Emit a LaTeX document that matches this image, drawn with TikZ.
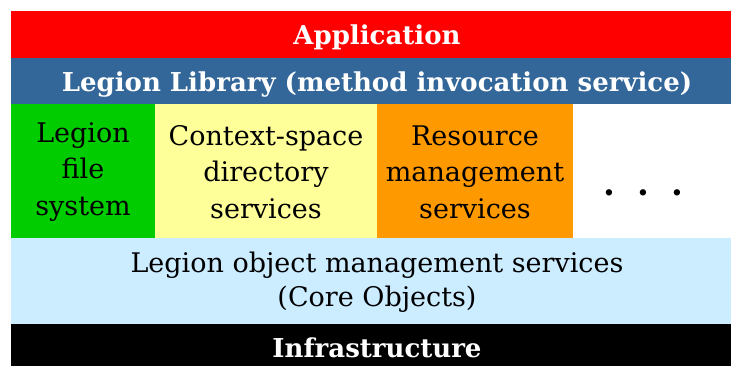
\documentclass[tikz,border=0pt]{standalone}
\usepackage{fontspec}
\setmainfont{DejaVu Serif}
\definecolor{appred}{HTML}{FF0000}
\definecolor{libblue}{HTML}{336699}
\definecolor{fsgreen}{HTML}{00CC00}
\definecolor{ctxyellow}{HTML}{FFFF99}
\definecolor{resorange}{HTML}{FF9900}
\definecolor{corelight}{HTML}{CCECFF}
\begin{document}
\begin{tikzpicture}[x=1pt,y=-1pt,
  layer/.style={anchor=north west,inner sep=0pt,outer sep=0pt,draw=none},
  boldlbl/.style={anchor=base,inner sep=0pt,text=white,font=\fontsize{26}{30}\selectfont\bfseries},
  celltxt/.style={align=center,inner sep=0pt,text=black,font=\fontsize{27}{36.5}\selectfont},
]
\useasboundingbox[fill=white] (0,0) rectangle (732,366);
% layers
\node[layer,fill=appred,minimum width=720pt,minimum height=47pt] (app) at (11,11) {};
\node[layer,fill=libblue,minimum width=720pt,minimum height=46pt] (lib) at (11,58) {};
\node[layer,fill=fsgreen,minimum width=144pt,minimum height=134pt] (fs) at (11,104) {};
\node[layer,fill=ctxyellow,minimum width=222pt,minimum height=134pt] (ctx) at (155,104) {};
\node[layer,fill=resorange,minimum width=196pt,minimum height=134pt] (res) at (377,104) {};
\node[layer,fill=white,minimum width=158pt,minimum height=134pt] (more) at (573,104) {};
\node[layer,fill=corelight,minimum width=720pt,minimum height=86pt] (core) at (11,238) {};
\node[layer,fill=black,minimum width=720pt,minimum height=42pt] (infra) at (11,324) {};
% labels
\node[boldlbl] (appt) at (377,45) {Application};
\node[boldlbl] (libt) at (377,92) {Legion Library (method invocation service)};
\node[boldlbl] (infrat) at (377,358) {Infrastructure};
\node[celltxt] (fst) at (83,172) {Legion\\file\\system};
\node[celltxt] (ctxt) at (266,172) {Context-space\\directory\\services};
\node[celltxt] (rest) at (475,172) {Resource\\management\\services};
\node[anchor=base,inner sep=0pt,font=\fontsize{34}{36}\selectfont\bfseries] (dots) at (643,196) {\makebox[34pt]{.}\makebox[34pt]{.}\makebox[34pt]{.}};
\node[celltxt,font=\fontsize{27}{34}\selectfont] (coret) at (377,282) {Legion object management services\\(Core Objects)};
\end{tikzpicture}
\end{document}
